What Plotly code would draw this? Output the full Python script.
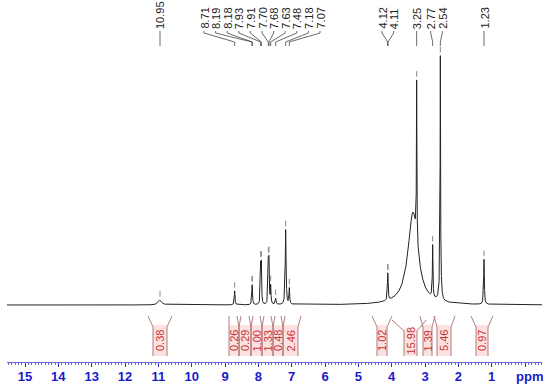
import numpy as np
import plotly.graph_objects as go

# ---------------- data ----------------
# spectral lines: position (ppm), intensity (arb.), half width (ppm)
line_ppm = [10.95, 8.71, 8.19, 8.18, 7.93, 7.91, 7.70, 7.68, 7.63, 7.48, 7.18, 7.07,
            4.12, 4.11, 3.36, 3.25, 2.77, 2.54, 2.54, 1.23]
line_int = [5, 14, 12.5, 12.5, 37, 37, 40, 40, 18, 6, 75, 16,
            17, 17, 92, 158, 52, 180, 65, 45]
line_hw = [0.06, 0.012, 0.01, 0.01, 0.01, 0.01, 0.01, 0.01, 0.012, 0.015, 0.014, 0.012,
           0.01, 0.01, 0.18, 0.008, 0.01, 0.006, 0.02, 0.012]

# peak picking labels, grouped as they are drawn
peak_groups = [
    ["10.95"],
    ["8.71", "8.19", "8.18", "7.93", "7.91", "7.70", "7.68", "7.63", "7.48", "7.18", "7.07"],
    ["4.12", "4.11"],
    ["3.25"],
    ["2.77", "2.54"],
    ["1.23"],
]

# integrals: value and label region (ppm)
integral_vals = ["0.38", "0.26", "0.29", "1.00", "1.33", "0.48", "2.46",
                 "1.02", "15.98", "1.39", "5.46", "0.97"]
integral_from = [11.16, 8.88, 8.58, 8.22, 7.89, 7.56, 7.26, 4.44, 3.63, 3.06, 2.64, 1.47]
integral_to = [10.74, 8.58, 8.22, 7.89, 7.56, 7.26, 6.81, 4.14, 3.24, 2.79, 2.22, 1.11]

axis_ticks = list(range(0, 16))

# ---------------- layout helpers ----------------
W, H = 550, 390
ML, MR, MT, MB = 7, 8, 0, 28
X0, X1 = 15.54, -0.51
PH = H - MT - MB
PW = W - ML - MR


def px_to_ppm(px):
    return X0 + (px - ML) / PW * (X1 - X0)


def ppm_to_px(p):
    return ML + (p - X0) / (X1 - X0) * PW


def py(pix):
    return 1 - (pix - MT) / PH


# ---------------- spectrum ----------------
x = np.arange(X1, X0, 0.001)
y = np.zeros_like(x)
for c, h, w in zip(line_ppm, line_int, line_hw):
    y += h / (1 + ((x - c) / w) ** 2)

fig = go.Figure()
fig.add_trace(go.Scatter(x=x, y=y, mode="lines",
                         line=dict(color="#222222", width=1), hoverinfo="skip"))

# small peak-pick marks above the peak tops
mark_x, mark_y = [], []
for grp in peak_groups:
    for lab in grp:
        p = float(lab)
        sel = (x > p - 0.006) & (x < p + 0.006)
        mark_x.append(p)
        mark_y.append(y[sel].max() + 6)
fig.add_trace(go.Scatter(x=mark_x, y=mark_y, mode="markers",
                         marker=dict(symbol="line-ns", size=4,
                                     line=dict(color="#888888", width=1)),
                         hoverinfo="skip"))

shapes = []
annotations = []

# ---------------- peak labels ----------------
SP = 11.6
for grp in peak_groups:
    vals = [float(v) for v in grp]
    cpx = (ppm_to_px(max(vals)) + ppm_to_px(min(vals))) / 2
    n = len(grp)
    for i, lab in enumerate(grp):
        lx = cpx + (i - (n - 1) / 2) * SP
        lppm = px_to_ppm(lx)
        pppm = float(lab)
        annotations.append(dict(x=lppm, xref="x", y=py(31), yref="paper",
                                text=lab, textangle=-90, showarrow=False,
                                xanchor="center", yanchor="bottom",
                                font=dict(family="Arial", size=11, color="#222222")))
        path = (f"M {lppm} {py(31)} L {lppm} {py(33)} L {pppm} {py(42)} L {pppm} {py(46)}")
        shapes.append(dict(type="path", path=path, xref="x", yref="paper",
                           line=dict(color="#444444", width=0.8)))

# ---------------- integrals ----------------
slants = [(5, 5), (0, 2), (2, 2), (2, 2), (2, 2), (2, 2), (2, 3),
          (5, 5), (12, 9), (3, 3), (3, 4), (5, 5)]
for val, a, b, (sl, sr) in zip(integral_vals, integral_from, integral_to, slants):
    top, knee, bot = 316, 327, 356
    if val == "15.98":
        top, knee = 320, 331
    shapes.append(dict(type="rect", x0=a, x1=b, xref="x", y0=py(bot), y1=py(knee - 2),
                       yref="paper", fillcolor="rgba(250,195,195,0.5)", line=dict(width=0),
                       layer="below"))
    la = px_to_ppm(ppm_to_px(a) - sl)
    rb = px_to_ppm(ppm_to_px(b) + sr)
    shapes.append(dict(type="path", xref="x", yref="paper",
                       path=f"M {la} {py(top)} L {a} {py(knee)} L {a} {py(bot)}",
                       line=dict(color="#a87070", width=0.9)))
    shapes.append(dict(type="path", xref="x", yref="paper",
                       path=f"M {rb} {py(top)} L {b} {py(knee)} L {b} {py(bot)}",
                       line=dict(color="#a87070", width=0.9)))
    annotations.append(dict(x=(a + b) / 2, xref="x", y=py(341), yref="paper",
                            text=val, textangle=-90, showarrow=False,
                            xanchor="center", yanchor="middle",
                            font=dict(family="Arial", size=11, color="#cc3333")))

annotations.append(dict(x=(529 - ML) / PW, xref="paper", y=py(376), yref="paper",
                        text="<b>ppm</b>", showarrow=False, xanchor="center", yanchor="middle",
                        font=dict(family="Arial", size=13, color="#1a1acc")))

fig.update_layout(
    width=W, height=H,
    margin=dict(l=ML, r=MR, t=MT, b=MB),
    plot_bgcolor="white", paper_bgcolor="white",
    showlegend=False,
    shapes=shapes, annotations=annotations,
    xaxis=dict(range=[X0, X1], tickvals=axis_ticks,
               ticktext=[""] + [f"<b>{t}</b>" for t in axis_ticks[1:]],
               ticks="outside", ticklen=4, tickcolor="#3333cc", tickwidth=1,
               ticklabelstandoff=-2,
               showline=True, linecolor="#6666dd", linewidth=1,
               tickfont=dict(family="Arial", size=13, color="#1a1acc"),
               minor=dict(dtick=0.1, ticks="outside", ticklen=2, tickcolor="#6666dd"),
               showgrid=False, zeroline=False, fixedrange=True),
    yaxis=dict(range=[-57, 305], visible=False, fixedrange=True),
)

fig.write_html("out.html", config={"displayModeBar": False},
               post_script="document.body.style.margin='0';document.body.style.overflow='hidden';")
